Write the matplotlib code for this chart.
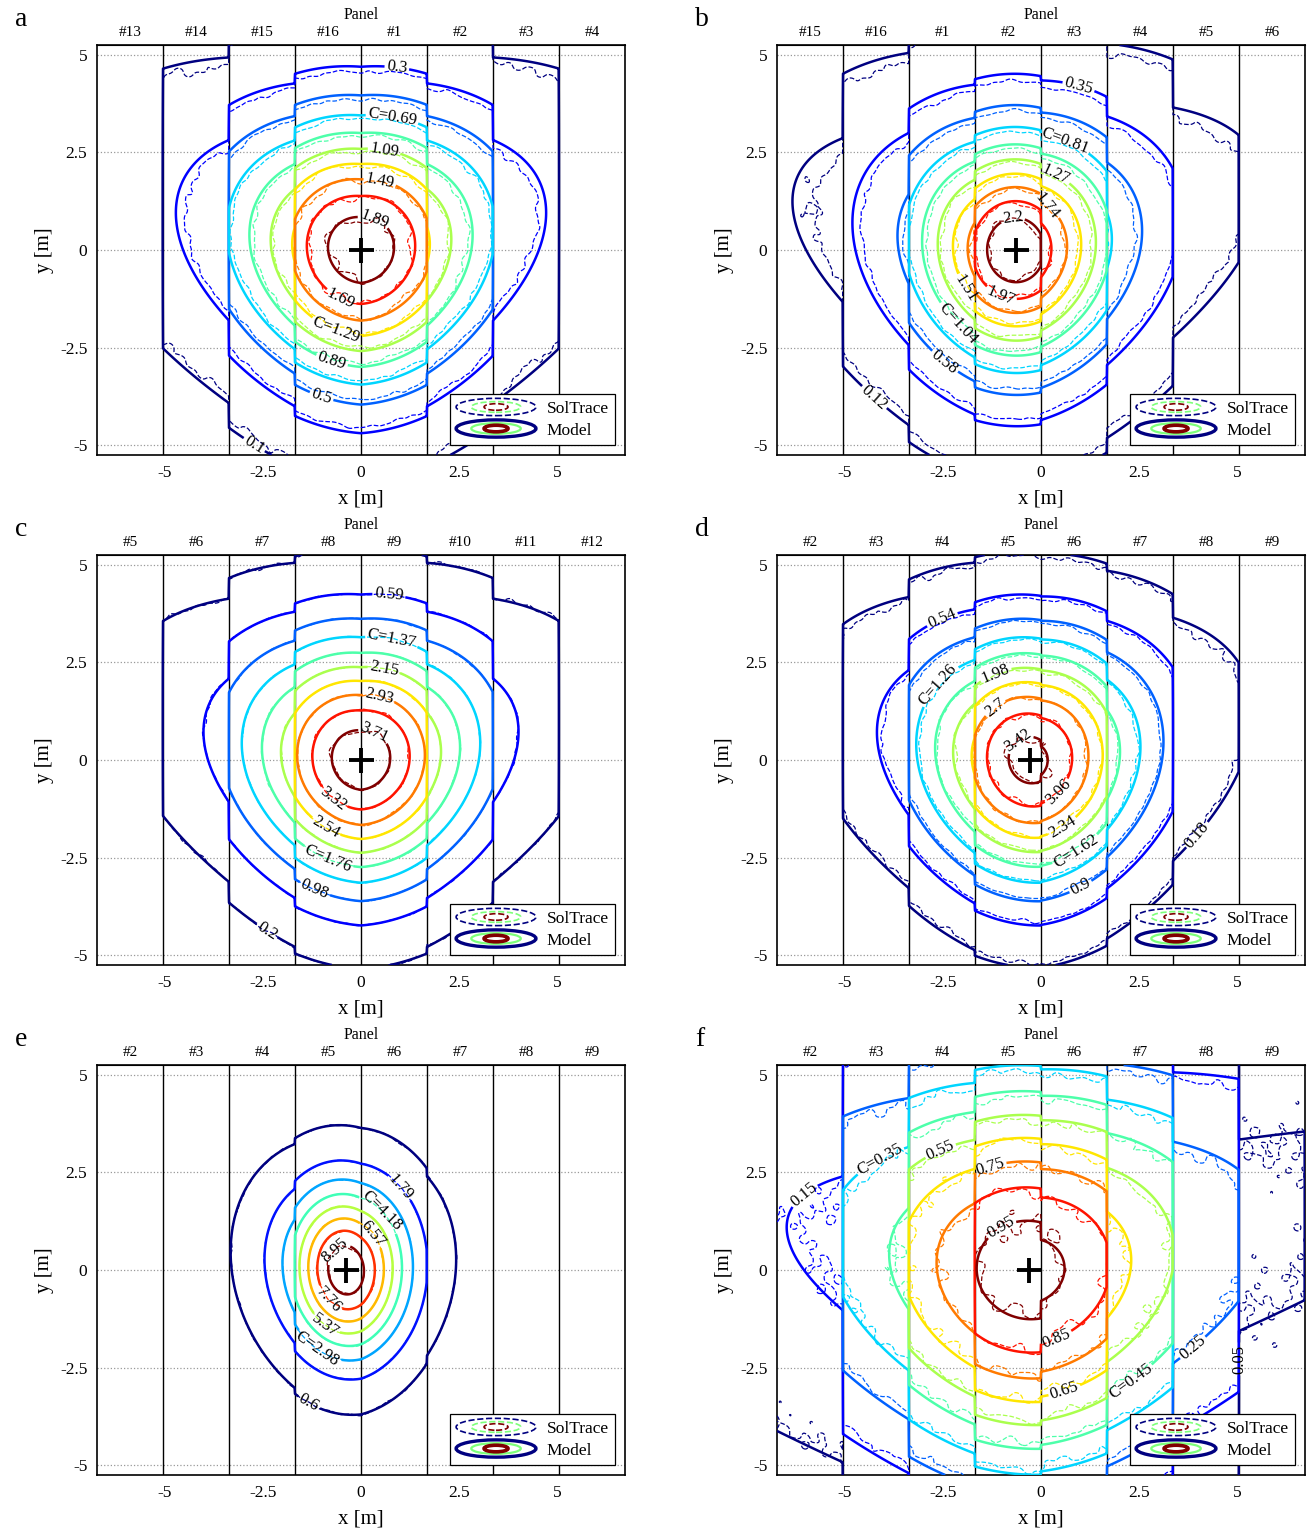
import numpy as np
import matplotlib
matplotlib.use("Agg")
import matplotlib.pyplot as plt
from matplotlib.lines import Line2D
from matplotlib.patches import Ellipse
from matplotlib.legend_handler import HandlerBase

plt.rcParams['font.family'] = ['Liberation Serif', 'DejaVu Serif']
plt.rcParams['axes.unicode_minus'] = False

# ---------------------------------------------------------------- data
subplot_letters = ['a', 'b', 'c', 'd', 'e', 'f']

panels_a = ['#13', '#14', '#15', '#16', '#1', '#2', '#3', '#4']
panels_b = ['#15', '#16', '#1', '#2', '#3', '#4', '#5', '#6']
panels_c = ['#5', '#6', '#7', '#8', '#9', '#10', '#11', '#12']
panels_d = ['#2', '#3', '#4', '#5', '#6', '#7', '#8', '#9']
panels_e = ['#2', '#3', '#4', '#5', '#6', '#7', '#8', '#9']
panels_f = ['#2', '#3', '#4', '#5', '#6', '#7', '#8', '#9']

levels_a = [0.1, 0.3, 0.5, 0.69, 0.89, 1.09, 1.29, 1.49, 1.69, 1.89]
levels_b = [0.12, 0.35, 0.58, 0.81, 1.04, 1.27, 1.51, 1.74, 1.97, 2.2]
levels_c = [0.2, 0.59, 0.98, 1.37, 1.76, 2.15, 2.54, 2.93, 3.32, 3.71]
levels_d = [0.18, 0.54, 0.9, 1.26, 1.62, 1.98, 2.34, 2.7, 3.06, 3.42]
levels_e = [0.6, 1.79, 2.98, 4.18, 5.37, 6.57, 7.76, 8.95]
levels_f = [0.05, 0.15, 0.25, 0.35, 0.45, 0.55, 0.65, 0.75, 0.85, 0.95]

# levels whose label carries the "C=" prefix
prefixed_a = [0.69, 1.29]
prefixed_b = [0.81, 1.04]
prefixed_c = [1.37, 1.76]
prefixed_d = [1.26, 1.62]
prefixed_e = [4.18, 2.98]
prefixed_f = [0.35, 0.45]

# flux-model parameters of each case (a..f)
peak_flux = [2.02, 2.40, 3.95, 3.55, 9.80, 1.01]
aim_x = [0.0, -0.64, 0.0, -0.27, -0.38, -0.30]
aim_y = [0.0, 0.0, 0.0, 0.0, 0.0, 0.0]
beam_azimuth_deg = [0.0, -10.0, 0.0, -2.0, 0.0, -5.0]
beam_tilt = [0.40, 0.40, 0.40, 0.40, 0.40, 0.30]
core_sigma_u = [2.15, 1.40, 2.00, 2.00, 0.95, 3.80]
core_sigma_y = [2.20, 1.60, 2.10, 2.18, 1.35, 3.60]
tail_weight = [0.15, 0.50, 0.10, 0.0, 0.30, 0.0]
tail_sigma_u = [3.50, 2.58, 3.00, 3.00, 1.45, 4.0]
tail_sigma_y = [3.50, 2.80, 2.80, 2.80, 1.90, 4.0]
# SolTrace (ray-trace) deviation from the model
soltrace_sigma_scale = [0.97, 0.96, 1.00, 0.98, 1.00, 0.97]
soltrace_rel_noise = [0.04, 0.04, 0.015, 0.035, 0.02, 0.05]
soltrace_abs_noise = [0.006, 0.004, 0.003, 0.006, 0.003, 0.012]

all_panels = [panels_a, panels_b, panels_c, panels_d, panels_e, panels_f]
all_levels = [levels_a, levels_b, levels_c, levels_d, levels_e, levels_f]
all_prefixed = [prefixed_a, prefixed_b, prefixed_c, prefixed_d, prefixed_e, prefixed_f]

# ---------------------------------------------------------------- layout
# manual contour-label anchor points (data coordinates), one per level
label_points = [
    [(-2.58, -4.76), (0.89, 4.48), (-1.01, -3.76), (0.78, 3.30), (-0.76, -2.89),
     (0.58, 2.48), (-0.68, -2.17), (0.46, 1.66), (-0.56, -1.33), (0.25, 0.56)],
    [(-4.19, -3.71), (1.02, 4.42), (-2.66, -3.12), (0.71, 3.07), (-2.46, -2.22),
     (0.51, 2.25), (-2.16, -1.15), (0.30, 1.33), (-1.02, -1.15), (-0.71, 0.72)],
    [(-2.46, -4.48), (0.71, 4.22), (-1.24, -3.45), (0.78, 3.07), (-0.94, -2.76),
     (0.58, 2.30), (-0.94, -1.79), (0.46, 1.61), (-0.73, -1.02), (0.28, 0.56)],
    [(3.98, -1.92), (-2.54, 3.66), (1.02, -3.27), (-2.46, 1.79), (0.96, -2.43),
     (-1.14, 2.17), (0.56, -1.74), (-1.09, 1.23), (0.25, -0.64), (-0.56, 0.46)],
    [(-1.27, -3.30), (1.09, 2.20), (-1.11, -2.02), (0.53, 1.51), (-0.89, -1.38),
     (0.28, 0.92), (-0.86, -0.79), (-0.56, 0.41)],
    [(5.76, -2.28), (-5.89, 1.74), (4.11, -2.28), (-4.11, 2.84), (2.46, -3.09),
     (-2.61, 3.17), (0.69, -3.38), (-1.35, 2.84), (0.43, -1.84), (-0.96, 0.97)],
]

FIG_W, FIG_H = 1316, 1535
ax_px = [(97, 45), (777, 45), (97, 555), (777, 555), (97, 1065), (777, 1065)]
AX_W, AX_H = 528, 410

PANEL_WIDTH = 1.68
N_SIDES = 16
R_APOTHEM = PANEL_WIDTH / (2 * np.tan(np.pi / N_SIDES))
STEP_DEG = 360.0 / N_SIDES
XLIM = 4 * PANEL_WIDTH
YLIM = 5.25

jet = plt.get_cmap('jet')


def geometry(x, beta_deg):
    j = np.floor(x / PANEL_WIDTH)
    xc = (j + 0.5) * PANEL_WIDTH
    a = np.deg2rad((j + 0.5) * STEP_DEG - beta_deg)
    s = x - xc
    u = R_APOTHEM * np.sin(a) + s * np.cos(a)
    z = R_APOTHEM * np.cos(a) - s * np.sin(a)
    return u, z, np.cos(a)


def flux(X, Y, i, sig_scale=1.0):
    u, z, c = geometry(X, beam_azimuth_deg[i])
    u0, z0, c0 = geometry(np.array(aim_x[i]), beam_azimuth_deg[i])
    du = u - u0
    dy = Y - aim_y[i] - beam_tilt[i] * (z0 - z)
    w = tail_weight[i]
    core = np.exp(-0.5 * ((du / (core_sigma_u[i] * sig_scale)) ** 2 +
                          (dy / (core_sigma_y[i] * sig_scale)) ** 2))
    tail = np.exp(-0.5 * ((du / (tail_sigma_u[i] * sig_scale)) ** 2 +
                          (dy / (tail_sigma_y[i] * sig_scale)) ** 2))
    return peak_flux[i] * ((1 - w) * core + w * tail) * np.clip(c, 0, None) / c0


def ripple(X, Y, phase):
    r = (np.sin(3.3 * X + 1.7 * Y + 0.4 + phase) * np.cos(2.1 * Y - 1.3 * X + 1.1)
         + 0.6 * np.sin(7.7 * X - 5.9 * Y + 2.3 + phase)
         + 0.5 * np.cos(11.3 * X + 8.9 * Y + 0.7)
         + 0.4 * np.sin(13.7 * Y - 4.1 * X + 2 * phase))
    return r / 2.5


class RingsHandler(HandlerBase):
    def __init__(self, linestyle, lws):
        super().__init__()
        self.linestyle = linestyle
        self.lws = lws

    def create_artists(self, legend, orig_handle, xdescent, ydescent,
                       width, height, fontsize, trans):
        cx = 0.5 * width - xdescent
        cy = 0.5 * height - ydescent
        arts = []
        specs = [(1.0, 1.0, jet(0.0)), (0.62, 0.62, jet(0.5)), (0.30, 0.38, jet(1.0))]
        for (fw, fh, col), lw in zip(specs, self.lws):
            e = Ellipse((cx, cy), width * fw, height * 1.2 * fh, fill=False,
                        edgecolor=col, lw=lw, linestyle=self.linestyle)
            e.set_transform(trans)
            arts.append(e)
        return arts


fig = plt.figure(figsize=(FIG_W / 100, FIG_H / 100), dpi=100)

xg = np.linspace(-XLIM, XLIM, 1345)
yg = np.linspace(-YLIM, YLIM, 526)
X, Y = np.meshgrid(xg, yg)
centers = (np.arange(8) - 3.5) * PANEL_WIDTH

for i, letter in enumerate(subplot_letters):
    px, py = ax_px[i]
    ax = fig.add_axes([px / FIG_W, 1 - (py + AX_H) / FIG_H, AX_W / FIG_W, AX_H / FIG_H])
    levels = all_levels[i]
    n = len(levels)
    cols = [jet(k / (n - 1)) for k in range(n)]

    F_model = flux(X, Y, i)
    F_sol = flux(X, Y, i, soltrace_sigma_scale[i])
    F_sol = (F_sol * (1 + soltrace_rel_noise[i] * ripple(X, Y, 0.3 * i))
             + soltrace_abs_noise[i] * peak_flux[i] * ripple(1.37 * X + 0.5, 1.21 * Y - 0.3, 1.1 * i))

    for k in range(-3, 4):
        ax.axvline(k * PANEL_WIDTH, color='k', lw=1.0, zorder=2)

    ax.contour(X, Y, F_sol, levels=levels, colors=cols, linewidths=0.9,
               linestyles='dashed', zorder=3)
    for lev, col, pt in zip(levels, cols, label_points[i]):
        cs = ax.contour(X, Y, F_model, levels=[lev], colors=[col], linewidths=1.8,
                        linestyles='solid', zorder=4)
        txt = ('C=%g' % lev) if lev in all_prefixed[i] else ('%g' % lev)
        cs.clabel(manual=[pt], fmt={lev: txt}, inline=True,
                  inline_spacing=2, fontsize=12, colors='k')

    ax.plot(aim_x[i], aim_y[i], marker='+', ms=18, mew=2.8, color='k', zorder=6)

    ax.set_xlim(-XLIM, XLIM)
    ax.set_ylim(-YLIM, YLIM)
    ax.set_xticks([-5, -2.5, 0, 2.5, 5])
    ax.set_xticklabels(['-5', '-2.5', '0', '2.5', '5'])
    ax.set_yticks([-5, -2.5, 0, 2.5, 5])
    ax.set_yticklabels(['-5', '-2.5', '0', '2.5', '5'])
    ax.tick_params(length=0, labelsize=12.5, pad=7)
    ax.yaxis.grid(True, ls=':', color='#999999', lw=0.9)
    ax.set_axisbelow(True)
    for sp in ax.spines.values():
        sp.set_linewidth(1.2)
    ax.set_xlabel('x [m]', fontsize=15, labelpad=6)
    ax.set_ylabel('y [m]', fontsize=15, labelpad=4)

    sec = ax.secondary_xaxis('top')
    sec.set_xticks(centers)
    sec.set_xticklabels(all_panels[i])
    sec.tick_params(length=0, labelsize=11, pad=4)
    sec.set_xlabel('Panel', fontsize=11.5, labelpad=5)

    h_sol = Line2D([], [])
    h_mod = Line2D([], [])
    leg = ax.legend([h_sol, h_mod], ['SolTrace', 'Model'],
                    handler_map={h_sol: RingsHandler('--', [1.2, 1.2, 1.2]),
                                 h_mod: RingsHandler('-', [2.4, 1.6, 2.6])},
                    loc='lower right', fontsize=12.5, handlelength=4.6, handleheight=0.9,
                    frameon=True, fancybox=False, edgecolor='k', framealpha=1,
                    borderpad=0.35, labelspacing=0.25, handletextpad=0.6,
                    borderaxespad=0.6)
    leg.get_frame().set_linewidth(0.9)
    leg.set_zorder(10)

    fig.text((px - 82) / FIG_W, 1 - (py - 25) / FIG_H, letter, fontsize=20,
             ha='left', va='center')

fig.savefig('out.png', dpi=100)
